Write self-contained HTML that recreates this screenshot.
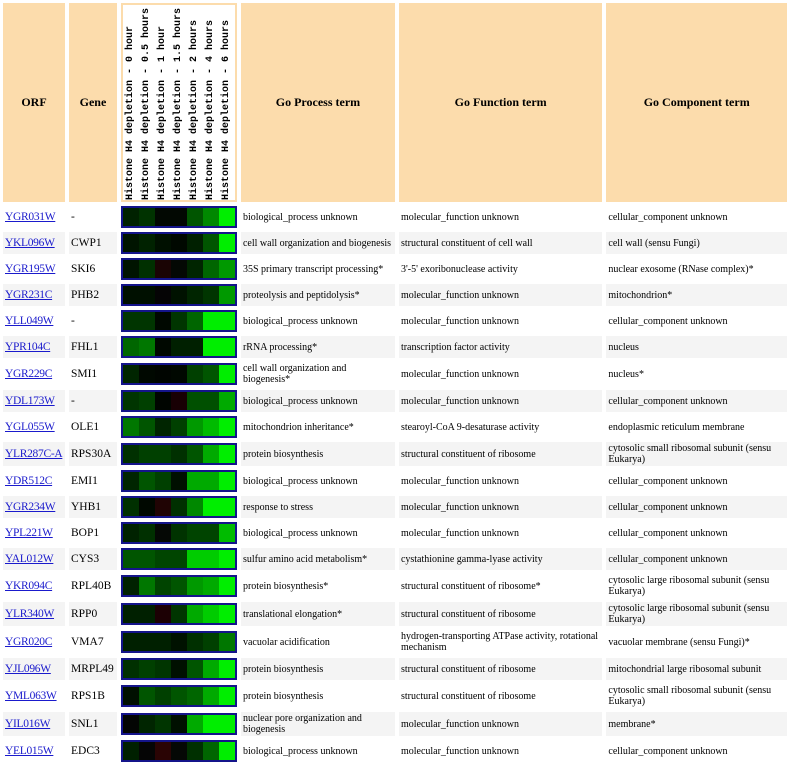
<!DOCTYPE html>
<html><head><meta charset="utf-8"><style>
body{margin:0;background:#fff;width:791px;height:764px;overflow:hidden}
table{border-collapse:separate;border-spacing:4px;margin:-1px 0 0 -1px;font-family:"Liberation Serif",serif;font-size:10px;color:#000;table-layout:fixed}
td{padding:0 2px;vertical-align:middle;line-height:11px;overflow:hidden}
th{background:#fcdcac;font-size:12px;font-weight:bold;padding:0}
th.h{background:#fff;border:2px solid #fcdcac;padding:0}
.vt{display:flex;flex-direction:row;height:195px;justify-content:center;gap:1px;align-items:flex-end}
.vt span{writing-mode:vertical-rl;transform:rotate(180deg);font-family:"Liberation Mono",monospace;font-size:10px;white-space:nowrap;width:15px;line-height:15px;text-align:left}
tr.g td{background:#f4f4f4}
tr.g td.hm{background:#fff}
a{color:#1a1acc;text-decoration:underline;font-size:11.5px;white-space:nowrap;letter-spacing:-0.3px}
.gn{font-size:11.5px;white-space:nowrap}
.hm{padding:0}
.bx{display:flex;border:2px solid #14148a;width:112px;height:18px;background:#0a3a10}
.bx i{flex:1;display:block}
tr.s td{height:22px}
tr.d td{height:24px}
</style></head><body>
<table>
<colgroup><col style="width:62px"><col style="width:48px"><col style="width:116px"><col style="width:154px"><col style="width:204px"><col style="width:181px"></colgroup>
<tr style="height:199px"><th>ORF</th><th>Gene</th><th class="h"><div class="vt"><span>Histone H4 depletion - 0 hour</span><span>Histone H4 depletion - 0.5 hours</span><span>Histone H4 depletion - 1 hour</span><span>Histone H4 depletion - 1.5 hours</span><span>Histone H4 depletion - 2 hours</span><span>Histone H4 depletion - 4 hours</span><span>Histone H4 depletion - 6 hours</span></div></th><th>Go Process term</th><th>Go Function term</th><th>Go Component term</th></tr>
<tr class="s"><td><a>YGR031W</a></td><td class="gn">-</td><td class="hm"><div class="bx"><i style="background:#002200"></i><i style="background:#003300"></i><i style="background:#020802"></i><i style="background:#020802"></i><i style="background:#005500"></i><i style="background:#008800"></i><i style="background:#00ee00"></i></div></td><td>biological_process unknown</td><td>molecular_function unknown</td><td>cellular_component unknown</td></tr>
<tr class="s g"><td><a>YKL096W</a></td><td class="gn">CWP1</td><td class="hm"><div class="bx"><i style="background:#001400"></i><i style="background:#002200"></i><i style="background:#001000"></i><i style="background:#000800"></i><i style="background:#002000"></i><i style="background:#005500"></i><i style="background:#00ee00"></i></div></td><td style="white-space:nowrap">cell wall organization and biogenesis</td><td>structural constituent of cell wall</td><td>cell wall (sensu Fungi)</td></tr>
<tr class="s"><td><a>YGR195W</a></td><td class="gn">SKI6</td><td class="hm"><div class="bx"><i style="background:#001400"></i><i style="background:#003000"></i><i style="background:#1a0404"></i><i style="background:#040804"></i><i style="background:#002500"></i><i style="background:#006600"></i><i style="background:#009900"></i></div></td><td>35S primary transcript processing*</td><td>3'-5' exoribonuclease activity</td><td>nuclear exosome (RNase complex)*</td></tr>
<tr class="s g"><td><a>YGR231C</a></td><td class="gn">PHB2</td><td class="hm"><div class="bx"><i style="background:#001000"></i><i style="background:#001000"></i><i style="background:#050405"></i><i style="background:#001200"></i><i style="background:#002500"></i><i style="background:#003500"></i><i style="background:#009900"></i></div></td><td>proteolysis and peptidolysis*</td><td>molecular_function unknown</td><td>mitochondrion*</td></tr>
<tr class="s"><td><a>YLL049W</a></td><td class="gn">-</td><td class="hm"><div class="bx"><i style="background:#003500"></i><i style="background:#003500"></i><i style="background:#000800"></i><i style="background:#003500"></i><i style="background:#006600"></i><i style="background:#00ee00"></i><i style="background:#00ee00"></i></div></td><td>biological_process unknown</td><td>molecular_function unknown</td><td>cellular_component unknown</td></tr>
<tr class="s g"><td><a>YPR104C</a></td><td class="gn">FHL1</td><td class="hm"><div class="bx"><i style="background:#006600"></i><i style="background:#007700"></i><i style="background:#000800"></i><i style="background:#002000"></i><i style="background:#002000"></i><i style="background:#00ee00"></i><i style="background:#00ee00"></i></div></td><td>rRNA processing*</td><td>transcription factor activity</td><td>nucleus</td></tr>
<tr class="d"><td><a>YGR229C</a></td><td class="gn">SMI1</td><td class="hm"><div class="bx"><i style="background:#002500"></i><i style="background:#000800"></i><i style="background:#000500"></i><i style="background:#000800"></i><i style="background:#004000"></i><i style="background:#005500"></i><i style="background:#00ee00"></i></div></td><td>cell wall organization and<br>biogenesis*</td><td>molecular_function unknown</td><td>nucleus*</td></tr>
<tr class="s g"><td><a>YDL173W</a></td><td class="gn">-</td><td class="hm"><div class="bx"><i style="background:#003500"></i><i style="background:#004000"></i><i style="background:#000500"></i><i style="background:#180004"></i><i style="background:#005000"></i><i style="background:#005000"></i><i style="background:#00aa00"></i></div></td><td>biological_process unknown</td><td>molecular_function unknown</td><td>cellular_component unknown</td></tr>
<tr class="s"><td><a>YGL055W</a></td><td class="gn">OLE1</td><td class="hm"><div class="bx"><i style="background:#007700"></i><i style="background:#005500"></i><i style="background:#002500"></i><i style="background:#004000"></i><i style="background:#009900"></i><i style="background:#00bb00"></i><i style="background:#00ee00"></i></div></td><td>mitochondrion inheritance*</td><td>stearoyl-CoA 9-desaturase activity</td><td>endoplasmic reticulum membrane</td></tr>
<tr class="d g"><td><a>YLR287C-A</a></td><td class="gn">RPS30A</td><td class="hm"><div class="bx"><i style="background:#003000"></i><i style="background:#004000"></i><i style="background:#004000"></i><i style="background:#003000"></i><i style="background:#005500"></i><i style="background:#00aa00"></i><i style="background:#00ee00"></i></div></td><td>protein biosynthesis</td><td>structural constituent of ribosome</td><td>cytosolic small ribosomal subunit (sensu Eukarya)</td></tr>
<tr class="s"><td><a>YDR512C</a></td><td class="gn">EMI1</td><td class="hm"><div class="bx"><i style="background:#002500"></i><i style="background:#005500"></i><i style="background:#004000"></i><i style="background:#001000"></i><i style="background:#00aa00"></i><i style="background:#00aa00"></i><i style="background:#00ee00"></i></div></td><td>biological_process unknown</td><td>molecular_function unknown</td><td>cellular_component unknown</td></tr>
<tr class="s g"><td><a>YGR234W</a></td><td class="gn">YHB1</td><td class="hm"><div class="bx"><i style="background:#003000"></i><i style="background:#000800"></i><i style="background:#200404"></i><i style="background:#003000"></i><i style="background:#008800"></i><i style="background:#00ee00"></i><i style="background:#00ee00"></i></div></td><td>response to stress</td><td>molecular_function unknown</td><td>cellular_component unknown</td></tr>
<tr class="s"><td><a>YPL221W</a></td><td class="gn">BOP1</td><td class="hm"><div class="bx"><i style="background:#002200"></i><i style="background:#003000"></i><i style="background:#050805"></i><i style="background:#003300"></i><i style="background:#004400"></i><i style="background:#004400"></i><i style="background:#00bb00"></i></div></td><td>biological_process unknown</td><td>molecular_function unknown</td><td>cellular_component unknown</td></tr>
<tr class="s g"><td><a>YAL012W</a></td><td class="gn">CYS3</td><td class="hm"><div class="bx"><i style="background:#005500"></i><i style="background:#005500"></i><i style="background:#004500"></i><i style="background:#004500"></i><i style="background:#00cc00"></i><i style="background:#00cc00"></i><i style="background:#00ee00"></i></div></td><td>sulfur amino acid metabolism*</td><td>cystathionine gamma-lyase activity</td><td>cellular_component unknown</td></tr>
<tr class="d"><td><a>YKR094C</a></td><td class="gn">RPL40B</td><td class="hm"><div class="bx"><i style="background:#002200"></i><i style="background:#007700"></i><i style="background:#004400"></i><i style="background:#005500"></i><i style="background:#009900"></i><i style="background:#00aa00"></i><i style="background:#00ee00"></i></div></td><td>protein biosynthesis*</td><td>structural constituent of ribosome*</td><td>cytosolic large ribosomal subunit (sensu Eukarya)</td></tr>
<tr class="d g"><td><a>YLR340W</a></td><td class="gn">RPP0</td><td class="hm"><div class="bx"><i style="background:#002000"></i><i style="background:#002000"></i><i style="background:#1c0004"></i><i style="background:#003500"></i><i style="background:#00aa00"></i><i style="background:#00cc00"></i><i style="background:#00ee00"></i></div></td><td>translational elongation*</td><td>structural constituent of ribosome</td><td>cytosolic large ribosomal subunit (sensu Eukarya)</td></tr>
<tr class="d"><td><a>YGR020C</a></td><td class="gn">VMA7</td><td class="hm"><div class="bx"><i style="background:#002000"></i><i style="background:#002000"></i><i style="background:#002000"></i><i style="background:#001200"></i><i style="background:#003000"></i><i style="background:#004000"></i><i style="background:#007700"></i></div></td><td>vacuolar acidification</td><td>hydrogen-transporting ATPase activity, rotational mechanism</td><td>vacuolar membrane (sensu Fungi)*</td></tr>
<tr class="s g"><td><a>YJL096W</a></td><td class="gn">MRPL49</td><td class="hm"><div class="bx"><i style="background:#003000"></i><i style="background:#004000"></i><i style="background:#003500"></i><i style="background:#001000"></i><i style="background:#005500"></i><i style="background:#00aa00"></i><i style="background:#00ee00"></i></div></td><td>protein biosynthesis</td><td>structural constituent of ribosome</td><td>mitochondrial large ribosomal subunit</td></tr>
<tr class="d"><td><a>YML063W</a></td><td class="gn">RPS1B</td><td class="hm"><div class="bx"><i style="background:#001000"></i><i style="background:#005500"></i><i style="background:#004000"></i><i style="background:#005500"></i><i style="background:#006600"></i><i style="background:#00aa00"></i><i style="background:#00ee00"></i></div></td><td>protein biosynthesis</td><td>structural constituent of ribosome</td><td>cytosolic small ribosomal subunit (sensu Eukarya)</td></tr>
<tr class="d g"><td><a>YIL016W</a></td><td class="gn">SNL1</td><td class="hm"><div class="bx"><i style="background:#030503"></i><i style="background:#002500"></i><i style="background:#003500"></i><i style="background:#001000"></i><i style="background:#00aa00"></i><i style="background:#00ee00"></i><i style="background:#00ee00"></i></div></td><td>nuclear pore organization and biogenesis</td><td>molecular_function unknown</td><td>membrane*</td></tr>
<tr class="s"><td><a>YEL015W</a></td><td class="gn">EDC3</td><td class="hm"><div class="bx"><i style="background:#002000"></i><i style="background:#050505"></i><i style="background:#2a0404"></i><i style="background:#050805"></i><i style="background:#003000"></i><i style="background:#006600"></i><i style="background:#00ee00"></i></div></td><td>biological_process unknown</td><td>molecular_function unknown</td><td>cellular_component unknown</td></tr>
</table>
</body></html>
